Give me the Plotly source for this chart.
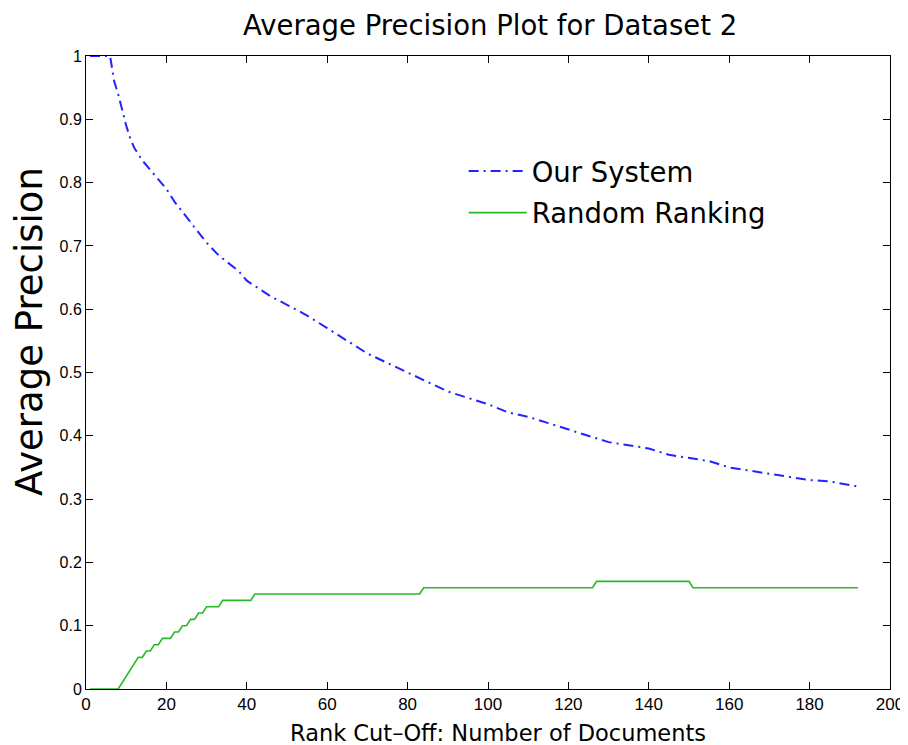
import plotly.graph_objects as go

# Our System: average precision by rank cut-off
sys_x = [1, 6, 7, 8, 9, 10, 11, 12, 13, 14, 16, 18, 20, 22, 25, 28, 30, 33, 35, 38, 40, 43, 46,
         50, 55, 60, 65, 70, 75, 80, 85, 90, 95, 100, 105, 110, 115, 120, 125, 130, 135,
         140, 145, 150, 155, 160, 165, 170, 175, 180, 185, 188, 192]
sys_y = [1.0, 1.0, 0.96, 0.94, 0.915, 0.89, 0.87, 0.855, 0.845, 0.835, 0.82, 0.805, 0.79,
         0.77, 0.745, 0.72, 0.705, 0.685, 0.675, 0.66, 0.645, 0.633, 0.62,
         0.607, 0.59, 0.57, 0.55, 0.53, 0.515, 0.50, 0.485, 0.47, 0.46, 0.45, 0.437,
         0.43, 0.42, 0.41, 0.40, 0.39, 0.385, 0.38, 0.37, 0.365, 0.36, 0.35, 0.345,
         0.34, 0.335, 0.33, 0.328, 0.325, 0.32]

# Random Ranking
rnd_x = [1, 8, 13, 14, 15, 16, 17, 18, 19, 21, 22, 23, 24, 25, 26, 27, 28, 29, 30,
         33, 34, 41, 42, 83, 84, 126, 127, 150, 151, 192]
rnd_y = [0.0, 0.0, 0.05, 0.05, 0.06, 0.06, 0.07, 0.07, 0.08, 0.08, 0.09, 0.09, 0.10,
         0.10, 0.11, 0.11, 0.12, 0.12, 0.13, 0.13, 0.14, 0.14, 0.15, 0.15,
         0.16, 0.16, 0.17, 0.17, 0.16, 0.16]

x_ticks = list(range(0, 201, 20))
y_ticks = [0, 0.1, 0.2, 0.3, 0.4, 0.5, 0.6, 0.7, 0.8, 0.9, 1]
y_tick_text = ["0", "0.1", "0.2", "0.3", "0.4", "0.5", "0.6", "0.7", "0.8", "0.9", "1"]

TICKFONT = "Liberation Sans, Arial, Helvetica, sans-serif"
TEXTFONT = "DejaVu Sans, Liberation Sans, Arial, sans-serif"

fig = go.Figure()
fig.add_trace(go.Scatter(
    x=sys_x, y=sys_y, mode="lines", name="Our System", legendgroup="a",
    line=dict(color="rgb(35,35,255)", width=2, dash="10px,5px,2px,5px"),
))
fig.add_trace(go.Scatter(
    x=rnd_x, y=rnd_y, mode="lines", name="Random Ranking", legendgroup="b",
    line=dict(color="rgb(40,185,40)", width=1.6),
))

fig.update_layout(
    width=908, height=745,
    margin=dict(l=78, r=18, t=48, b=64),
    paper_bgcolor="white", plot_bgcolor="white",
    font=dict(family=TEXTFONT, color="black"),
    title=dict(text="Average Precision Plot for Dataset 2", x=0.531, xanchor="center",
               y=0.977, yanchor="middle", font=dict(size=27.5, family=TEXTFONT)),
    showlegend=True,
    legend=dict(x=0.4697, y=0.857, xanchor="left", yanchor="top",
                bgcolor="rgba(255,255,255,0)", borderwidth=0,
                font=dict(size=27.5, family=TEXTFONT), itemwidth=58, tracegroupgap=3),
    annotations=[
        dict(text="Rank Cut\u2013Off: Number of Documents", xref="paper", yref="paper",
             x=0.513, y=-0.0695, xanchor="center", yanchor="middle", showarrow=False,
             font=dict(size=22.5, family=TEXTFONT)),
        dict(text="Average Precision", xref="paper", yref="paper", textangle=-90,
             x=-0.0697, y=0.5656, xanchor="center", yanchor="middle", showarrow=False,
             font=dict(size=37, family=TEXTFONT)),
    ],
)
fig.update_xaxes(
    range=[0, 200], tickvals=x_ticks, ticks="inside", ticklen=7, tickcolor="black",
    showline=True, linecolor="black", linewidth=1, mirror="ticks",
    showgrid=False, zeroline=False,
    tickfont=dict(size=17, family=TICKFONT),
)
fig.update_yaxes(
    range=[0, 1], tickvals=y_ticks, ticktext=y_tick_text, ticks="inside", ticklen=7,
    tickcolor="black",
    showline=True, linecolor="black", linewidth=1, mirror="ticks",
    showgrid=False, zeroline=False,
    tickfont=dict(size=16, family=TICKFONT),
)

fig.write_html("out.html")
